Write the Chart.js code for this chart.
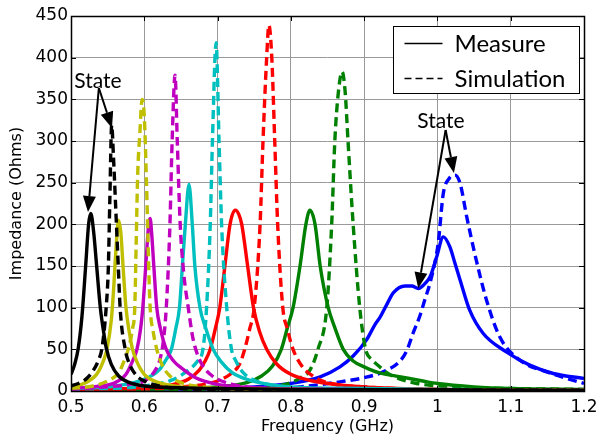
<!DOCTYPE html>
<html>
<head>
<meta charset="utf-8">
<script src="https://cdn.jsdelivr.net/npm/chart.js@4.4.1/dist/chart.umd.min.js"></script>
<style>
  html, body { margin: 0; padding: 0; background: #fff; }
  #wrap { width: 598px; height: 437px; }
</style>
</head>
<body>
<div id="wrap"><canvas id="c" width="598" height="437"></canvas></div>
<script>
// Frequency (GHz) and impedance (Ohms) for each state: measured and simulated
const fBlackMeas = [0.500,0.505,0.510,0.515,0.520,0.524,0.527,0.531,0.535,0.540,0.545,0.548,0.555,0.565,0.580,0.600,0.650,0.700,0.800,1.000,1.200];
const zBlackMeas = [20,32,52,90,150,200,213,190,150,100,68,52,32,18,10,6,4,3,2,1.5,1];
const fBlackSim  = [0.500,0.510,0.520,0.530,0.538,0.542,0.548,0.551,0.553,0.5555,0.558,0.561,0.5645,0.567,0.574,0.580,0.590,0.600,0.620,0.650,0.700,0.800,1.000,1.200];
const zBlackSim  = [6,9,14,24,38,50,100,150,230,319,280,220,150,100,50,32,18,12,6,3,2,1.5,1,1];

const fYellowMeas = [0.500,0.520,0.535,0.545,0.549,0.555,0.558,0.561,0.565,0.568,0.571,0.575,0.580,0.584,0.590,0.600,0.620,0.650,0.700,0.800,1.000,1.200];
const zYellowMeas = [5,10,20,38,50,85,120,165,205,190,150,100,68,50,35,20,10,5,3,2,1,1];
const fYellowSim  = [0.500,0.530,0.550,0.565,0.572,0.578,0.584,0.587,0.589,0.591,0.594,0.597,0.600,0.603,0.606,0.608,0.612,0.617,0.625,0.635,0.650,0.680,0.750,0.900,1.200];
const zYellowSim  = [3,6,12,22,35,50,75,100,180,260,310,350,330,250,150,100,72,50,30,18,10,5,2,1,1];

const fMagentaMeas = [0.500,0.540,0.560,0.575,0.585,0.590,0.595,0.598,0.602,0.606,0.608,0.610,0.613,0.617,0.622,0.630,0.640,0.650,0.670,0.700,0.750,0.850,1.000,1.200];
const zMagentaMeas = [3,6,10,20,38,50,75,100,150,200,207,190,150,100,75,50,36,28,16,8,4,2,1,1];
const fMagentaSim  = [0.500,0.550,0.580,0.600,0.615,0.622,0.626,0.630,0.635,0.638,0.642,0.645,0.649,0.654,0.660,0.666,0.672,0.680,0.690,0.700,0.720,0.750,0.850,1.000,1.200];
const zMagentaSim  = [2,5,8,12,25,40,60,100,200,300,379,300,200,140,100,65,45,30,20,14,8,4,2,1,1];

const fCyanMeas = [0.500,0.560,0.600,0.620,0.630,0.637,0.643,0.648,0.652,0.656,0.661,0.6655,0.669,0.676,0.684,0.694,0.705,0.720,0.740,0.770,0.800,0.900,1.000,1.200];
const zCyanMeas = [3,6,14,25,38,50,75,100,150,200,248,200,150,100,75,50,35,22,14,8,5,3,2,1];
const fCyanSim  = [0.500,0.600,0.640,0.660,0.672,0.680,0.685,0.690,0.693,0.698,0.702,0.7055,0.7125,0.719,0.725,0.735,0.750,0.780,0.820,0.900,1.000,1.200];
const zCyanSim  = [2,6,14,25,35,50,100,200,300,418,300,200,100,50,36,22,13,6,3,2,1,1];

const fRedMeas = [0.500,0.600,0.640,0.660,0.675,0.683,0.690,0.697,0.703,0.710,0.717,0.724,0.729,0.733,0.741,0.749,0.757,0.767,0.780,0.800,0.830,0.870,0.920,1.000,1.200];
const zRedMeas = [1,4,8,14,25,36,50,75,100,150,200,217,212,200,150,100,72,50,33,20,12,7,4,2,1];
const fRedSim  = [0.500,0.650,0.700,0.720,0.730,0.737,0.744,0.750,0.758,0.762,0.767,0.770,0.774,0.778,0.782,0.789,0.795,0.803,0.815,0.830,0.850,0.900,1.000,1.200];
const zRedSim  = [1,5,12,22,32,50,75,100,200,300,400,439,400,300,200,100,75,50,30,18,10,5,2,1];

const fGreenMeas = [0.500,0.700,0.740,0.760,0.775,0.787,0.795,0.803,0.8125,0.8205,0.826,0.833,0.840,0.851,0.860,0.8715,0.885,0.900,0.920,0.950,0.980,1.000,1.050,1.100,1.200];
const zGreenMeas = [1,5,10,18,30,50,75,100,150,200,217,200,150,100,76,50,36,29,22,17,12,9,5,3,2];
const fGreenSim  = [0.500,0.750,0.800,0.815,0.826,0.837,0.849,0.8557,0.860,0.865,0.870,0.874,0.878,0.885,0.894,0.902,0.910,0.920,0.931,0.950,0.972,1.000,1.050,1.100,1.200];
const zGreenSim  = [1,4,10,17,25,50,100,200,300,360,383,360,300,200,100,50,38,30,22,14,9,6,4,3,2];

const fBlueMeas = [0.500,0.600,0.700,0.750,0.800,0.840,0.867,0.885,0.903,0.915,0.922,0.931,0.940,0.9557,0.965,0.974,0.982,0.990,0.999,1.008,1.017,1.024,1.031,1.044,1.0625,1.094,1.126,1.158,1.200];
const zBlueMeas = [1,2,3,5,9,17,29,42,61,80,89,104,118,126,126,123,128,137,161,185,173,153,133,97,69,47,31,21,15];
const fBlueSim  = [0.500,0.700,0.800,0.867,0.900,0.926,0.949,0.958,0.967,0.976,0.983,0.990,1.001,1.008,1.016,1.024,1.031,1.040,1.053,1.067,1.085,1.1125,1.149,1.200];
const zBlueSim  = [0.5,1,4,11,16,23,36,48,70,90,110,130,177,237,255,259,249,209,157,109,65,37,23,9];

// Axis ticks
const xTickValues = [0.5,0.6,0.7,0.8,0.9,1.0,1.1,1.2];
const xTickLabels = ['0.5','0.6','0.7','0.8','0.9','1','1.1','1.2'];
const yTickValues = [0,50,100,150,200,250,300,350,400,450];
const yTickLabels = ['0','50','100','150','200','250','300','350','400','450'];

const legendLabels = ['Measure','Simulation'];
const annotationText = 'State';

// Colours per state
const colours = {
  black: '#000000', yellow: '#bfbf00', magenta: '#bf00bf', cyan: '#00bfbf',
  red: '#ff0000', green: '#008000', blue: '#0000ff'
};

const series = [
  ['black',   fBlackMeas,   zBlackMeas,   fBlackSim,   zBlackSim],
  ['yellow',  fYellowMeas,  zYellowMeas,  fYellowSim,  zYellowSim],
  ['magenta', fMagentaMeas, zMagentaMeas, fMagentaSim, zMagentaSim],
  ['cyan',    fCyanMeas,    zCyanMeas,    fCyanSim,    zCyanSim],
  ['red',     fRedMeas,     zRedMeas,     fRedSim,     zRedSim],
  ['green',   fGreenMeas,   zGreenMeas,   fGreenSim,   zGreenSim],
  ['blue',    fBlueMeas,    zBlueMeas,    fBlueSim,    zBlueSim]
];

const toPoints = (f, z) => f.map((x, i) => ({ x, y: z[i] }));

const datasets = [];
series.forEach(([name, fm, zm, fs, zs]) => {
  datasets.push({
    label: name + ' measure', data: toPoints(fm, zm),
    borderColor: colours[name], borderWidth: 3.4, pointRadius: 0,
    cubicInterpolationMode: 'monotone', fill: false
  });
  datasets.push({
    label: name + ' simulation', data: toPoints(fs, zs),
    borderColor: colours[name], borderWidth: 3.4, pointRadius: 0,
    borderDash: [9, 5], cubicInterpolationMode: 'monotone', fill: false
  });
});

// Axes frame with inward tick marks
const framePlugin = {
  id: 'frame',
  afterDatasetsDraw(chart) {
    const { ctx, chartArea: a, scales: { x, y } } = chart;
    ctx.save();
    ctx.strokeStyle = '#000';
    ctx.lineWidth = 1;
    ctx.beginPath();
    xTickValues.forEach(v => {
      const px = Math.round(x.getPixelForValue(v)) + 0.5;
      ctx.moveTo(px, a.bottom); ctx.lineTo(px, a.bottom - 5);
      ctx.moveTo(px, a.top); ctx.lineTo(px, a.top + 5);
    });
    yTickValues.forEach(v => {
      const py = Math.round(y.getPixelForValue(v)) + 0.5;
      ctx.moveTo(a.left, py); ctx.lineTo(a.left + 5, py);
      ctx.moveTo(a.right, py); ctx.lineTo(a.right - 5, py);
    });
    ctx.stroke();
    ctx.lineWidth = 1.5;
    ctx.strokeRect(Math.round(a.left) + 0.5, Math.round(a.top) + 0.5,
                   Math.round(a.right - a.left), Math.round(a.bottom - a.top));
    ctx.restore();
  }
};

// "State" labels with arrows, anchored in data coordinates
const stateArrows = [
  { text: [0.5368, 372], from: [0.538, 363.6], to: [[0.5232, 214.8], [0.5559, 315.6]] },
  { text: [1.0048, 324], from: [1.0112, 313.2], to: [[1.0225, 261.6], [0.9738, 123.2]] }
];

function drawArrow(ctx, x0, y0, x1, y1) {
  const ang = Math.atan2(y1 - y0, x1 - x0);
  const headLen = 16, headHalf = 6.5;
  const bx = x1 - headLen * Math.cos(ang), by = y1 - headLen * Math.sin(ang);
  ctx.beginPath();
  ctx.moveTo(x0, y0); ctx.lineTo(bx, by);
  ctx.stroke();
  ctx.beginPath();
  ctx.moveTo(x1, y1);
  ctx.lineTo(bx + headHalf * Math.sin(ang), by - headHalf * Math.cos(ang));
  ctx.lineTo(bx - headHalf * Math.sin(ang), by + headHalf * Math.cos(ang));
  ctx.closePath();
  ctx.fill();
}

const annotationPlugin = {
  id: 'stateArrows',
  afterDatasetsDraw(chart) {
    const { ctx, scales: { x, y } } = chart;
    ctx.save();
    ctx.strokeStyle = '#000'; ctx.fillStyle = '#000'; ctx.lineWidth = 2;
    stateArrows.forEach(s => {
      const ox = x.getPixelForValue(s.from[0]), oy = y.getPixelForValue(s.from[1]);
      s.to.forEach(t => drawArrow(ctx, ox, oy, x.getPixelForValue(t[0]), y.getPixelForValue(t[1])));
      ctx.font = '21px Lato';
      ctx.textAlign = 'center'; ctx.textBaseline = 'middle';
      ctx.fillText(annotationText, x.getPixelForValue(s.text[0]), y.getPixelForValue(s.text[1]));
    });
    ctx.restore();
  }
};

// Line-style legend box in the upper right corner
const legendPlugin = {
  id: 'styleLegend',
  afterDraw(chart) {
    const { ctx, chartArea: a } = chart;
    const bx = Math.round(a.right) - 190.5, by = Math.round(a.top) + 10.5, bw = 186, bh = 67;
    ctx.save();
    ctx.fillStyle = '#fff';
    ctx.fillRect(bx, by, bw, bh);
    ctx.strokeStyle = '#000'; ctx.lineWidth = 1;
    ctx.strokeRect(bx, by, bw, bh);
    ctx.lineWidth = 1.5;
    const rows = [by + 17, by + 52];
    ctx.beginPath(); ctx.setLineDash([]);
    ctx.moveTo(bx + 11, rows[0]); ctx.lineTo(bx + 49, rows[0]); ctx.stroke();
    ctx.beginPath(); ctx.setLineDash([7, 4]);
    ctx.moveTo(bx + 11, rows[1]); ctx.lineTo(bx + 49, rows[1]); ctx.stroke();
    ctx.setLineDash([]);
    ctx.fillStyle = '#000';
    ctx.font = '24px Lato';
    ctx.textAlign = 'left'; ctx.textBaseline = 'middle';
    ctx.fillText(legendLabels[0], bx + 61, rows[0] + 1);
    ctx.fillText(legendLabels[1], bx + 61, rows[1] + 1);
    ctx.restore();
  }
};

const tickFont = { family: 'DejaVu Sans', size: 17 };
const titleFont = { family: 'DejaVu Sans', size: 16 };

new Chart(document.getElementById('c'), {
  type: 'line',
  data: { datasets },
  plugins: [framePlugin, annotationPlugin, legendPlugin],
  options: {
    responsive: false,
    animation: false,
    layout: { padding: { top: 16, right: 14, left: 0, bottom: 0 } },
    plugins: { legend: { display: false }, tooltip: { enabled: false } },
    scales: {
      x: {
        type: 'linear', min: 0.5, max: 1.2,
        afterBuildTicks: s => { s.ticks = xTickValues.map(v => ({ value: v })); },
        afterFit: s => { s.height = 46; s.paddingLeft = 0; s.paddingRight = 0; },
        ticks: {
          callback: (v, i) => xTickLabels[i],
          font: tickFont, color: '#000', padding: 6, maxRotation: 0, autoSkip: false
        },
        grid: { color: '#9a9a9a', lineWidth: 1, drawTicks: false },
        border: { display: false },
        title: { display: true, text: 'Frequency (GHz)', font: titleFont, color: '#000', padding: { top: 0, bottom: 1 } }
      },
      y: {
        type: 'linear', min: 0, max: 450,
        afterBuildTicks: s => { s.ticks = yTickValues.map(v => ({ value: v })); },
        afterFit: s => { s.width = 71; s.paddingTop = 0; s.paddingBottom = 0; },
        ticks: {
          callback: (v, i) => yTickLabels[i],
          font: tickFont, color: '#000', padding: 3, autoSkip: false
        },
        grid: { color: '#9a9a9a', lineWidth: 1, drawTicks: false },
        border: { display: false },
        title: { display: true, text: 'Impedance (Ohms)', font: titleFont, color: '#000', padding: { top: 7, bottom: 0 } }
      }
    }
  }
});
</script>
</body>
</html>
